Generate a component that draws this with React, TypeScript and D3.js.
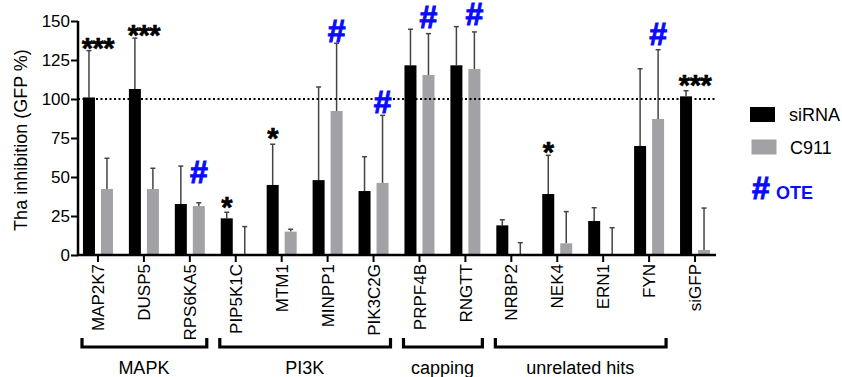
import React, { useEffect, useRef } from "react";
import * as d3 from "d3";

const genes = ["MAP2K7", "DUSP5", "RPS6KA5", "PIP5K1C", "MTM1", "MINPP1", "PIK3C2G", "PRPF4B", "RNGTT", "NRBP2", "NEK4", "ERN1", "FYN", "siGFP"];
const series = ["siRNA", "C911"];
const sirnaMean = [101, 106.4, 32.7, 23.5, 44.9, 48, 41, 121.6, 121.6, 19, 39.1, 21.8, 69.9, 101.7];
const sirnaSd = [30, 32.6, 24.3, 3.9, 26.1, 59.7, 22, 23.1, 24.8, 3.6, 24.8, 8.5, 49.5, 3.6];
const c911Mean = [42.3, 42.3, 31.4, 0, 15, 92.3, 46.2, 115.4, 119.2, 0, 7.5, 0, 87.2, 3.2];
const c911Sd = [19.7, 13.3, 2.1, 18.2, 1.5, 43.4, 43.3, 26.5, 23.8, 7.9, 20.3, 17.5, 44.4, 26.9];
const yTicks = [0, 25, 50, 75, 100, 125, 150];

// significance marks: where = group centre or over one series
const stars = [
  { gene: "MAP2K7", text: "***", where: "group", y: 132.7 },
  { gene: "DUSP5", text: "***", where: "group", y: 141 },
  { gene: "PIP5K1C", text: "*", where: "siRNA", y: 30.8 },
  { gene: "MTM1", text: "*", where: "siRNA", y: 75 },
  { gene: "NEK4", text: "*", where: "siRNA", y: 66.2 },
  { gene: "siGFP", text: "***", where: "group", y: 109 },
];
const otes = [
  { gene: "RPS6KA5", y: 46.2 },
  { gene: "MINPP1", y: 136.7 },
  { gene: "PIK3C2G", y: 91 },
  { gene: "PRPF4B", y: 145.3 },
  { gene: "RNGTT", y: 147.3 },
  { gene: "FYN", y: 134.6 },
];
const groups = [
  { name: "MAPK", from: "MAP2K7", to: "RPS6KA5" },
  { name: "PI3K", from: "PIP5K1C", to: "PIK3C2G" },
  { name: "capping", from: "PRPF4B", to: "RNGTT" },
  { name: "unrelated hits", from: "NRBP2", to: "FYN" },
];

const BLUE = "#0a0aff";
const GREY = "#a2a2a6";
const FONT = "'Liberation Sans', Arial, sans-serif";

export default function App() {
  const ref = useRef<SVGSVGElement>(null);

  useEffect(() => {
    const svg = d3.select(ref.current);
    svg.selectAll("*").remove();

    const x = d3.scaleBand().domain(genes).range([75, 718]);
    const xs = d3.scaleBand().domain(series).range([-15, 15]).paddingInner(0.333);
    const y = d3.scaleLinear().domain([0, 150]).range([255, 21]);
    const cx = (g: string) => (x(g) as number) + x.bandwidth() / 2;
    const sx = (g: string, s: string) => cx(g) + (xs(s) as number) + xs.bandwidth() / 2;

    const rows = genes.flatMap((g, i) => [
      { gene: g, s: "siRNA", v: sirnaMean[i], sd: sirnaSd[i] },
      { gene: g, s: "C911", v: c911Mean[i], sd: c911Sd[i] },
    ]);

    // error bars
    const eb = svg.append("g").attr("stroke", "#444").attr("stroke-width", 1.5);
    eb.selectAll("line.v").data(rows).join("line")
      .attr("x1", d => sx(d.gene, d.s)).attr("x2", d => sx(d.gene, d.s))
      .attr("y1", d => y(d.v)).attr("y2", d => y(d.v + d.sd));
    eb.selectAll("line.c").data(rows).join("line")
      .attr("x1", d => sx(d.gene, d.s) - 2.5).attr("x2", d => sx(d.gene, d.s) + 2.5)
      .attr("y1", d => y(d.v + d.sd)).attr("y2", d => y(d.v + d.sd));

    // bars
    svg.append("g").selectAll("rect").data(rows).join("rect")
      .attr("x", d => cx(d.gene) + (xs(d.s) as number))
      .attr("width", xs.bandwidth())
      .attr("y", d => y(d.v))
      .attr("height", d => y(0) - y(d.v))
      .attr("fill", d => d.s === "siRNA" ? "#000" : GREY);

    // 100% reference
    svg.append("line")
      .attr("x1", 78).attr("x2", 716).attr("y1", y(100)).attr("y2", y(100))
      .attr("stroke", "#000").attr("stroke-width", 2).attr("stroke-dasharray", "2,2.5");

    // y axis
    const ya = svg.append("g").attr("transform", "translate(78,0)")
      .call(d3.axisLeft(y).tickValues(yTicks).tickSize(7).tickPadding(1));
    ya.select(".domain").attr("stroke-width", 2.5).attr("d", `M0,${y(150)}V${y(0) + 1}`);
    ya.selectAll(".tick line").attr("stroke-width", 2);
    ya.selectAll("text").attr("font-size", 17).attr("font-family", FONT).attr("fill", "#000");

    // x axis
    const xa = svg.append("g").attr("transform", `translate(0,${y(0)})`)
      .call(d3.axisBottom(x).tickSize(7).tickPadding(3));
    xa.select(".domain").attr("stroke-width", 2.5).attr("d", "M77,0H716");
    xa.selectAll(".tick line").attr("stroke-width", 2);
    xa.selectAll("text")
      .attr("font-size", 17).attr("font-family", FONT).attr("fill", "#000")
      .attr("transform", "rotate(-90)")
      .attr("text-anchor", "end")
      .attr("x", -9).attr("y", 0).attr("dy", "0.36em");

    // significance
    svg.append("g").selectAll("text").data(stars).join("text")
      .attr("x", d => d.where === "group" ? cx(d.gene) : sx(d.gene, d.where))
      .attr("y", d => y(d.y) + 10)
      .attr("text-anchor", "middle")
      .attr("font-family", FONT).attr("font-weight", "bold").attr("font-size", 29)
      .attr("stroke", "#000").attr("stroke-width", 0.6)
      .attr("letter-spacing", -0.5)
      .text(d => d.text);
    svg.append("g").selectAll("text").data(otes).join("text")
      .attr("x", d => sx(d.gene, "C911"))
      .attr("y", d => y(d.y))
      .attr("text-anchor", "middle").attr("fill", BLUE)
      .attr("stroke", BLUE).attr("stroke-width", 1)
      .attr("font-family", FONT).attr("font-weight", "bold").attr("font-size", 32)
      .text("#");

    // group brackets
    const br = svg.append("g").selectAll("g").data(groups).join("g");
    br.append("path")
      .attr("d", d => {
        const a = (x(d.from) as number) + 7;
        const b = (x(d.to) as number) + x.bandwidth() - 6;
        return `M${a},338V347H${b}V338`;
      })
      .attr("fill", "none").attr("stroke", "#000").attr("stroke-width", 3.2);
    br.append("text")
      .attr("x", d => ((x(d.from) as number) + (x(d.to) as number) + x.bandwidth()) / 2)
      .attr("y", 374)
      .attr("text-anchor", "middle")
      .attr("font-family", FONT).attr("font-size", 18).attr("fill", "#000")
      .text(d => d.name);

    // y label
    svg.append("text")
      .attr("transform", `translate(27,${(y(0) + y(150)) / 2 + 2}) rotate(-90)`)
      .attr("text-anchor", "middle")
      .attr("font-family", FONT).attr("font-size", 18).attr("fill", "#000")
      .text("Tha inhibition (GFP %)");

    // legend
    const lg = svg.append("g");
    lg.append("rect").attr("x", 750).attr("y", 107).attr("width", 25).attr("height", 15).attr("fill", "#000");
    lg.append("rect").attr("x", 751.5).attr("y", 139.5).attr("width", 25).attr("height", 15).attr("fill", GREY);
    lg.append("text").attr("x", 789).attr("y", 121).attr("font-family", FONT).attr("font-size", 18).attr("fill", "#000").text("siRNA");
    lg.append("text").attr("x", 790).attr("y", 154).attr("font-family", FONT).attr("font-size", 18).attr("fill", "#000").text("C911");
    lg.append("text").attr("x", 752).attr("y", 199).attr("font-family", FONT).attr("font-weight", "bold").attr("font-size", 32)
      .attr("fill", BLUE).attr("stroke", BLUE).attr("stroke-width", 1).text("#");
    lg.append("text").attr("x", 776).attr("y", 198.5).attr("font-family", FONT).attr("font-weight", "bold").attr("font-size", 18).attr("fill", BLUE).text("OTE");
  }, []);

  return (
    <svg ref={ref} width={842} height={377}
      style={{ position: "absolute", left: 0, top: 0, background: "#fff" }} />
  );
}
